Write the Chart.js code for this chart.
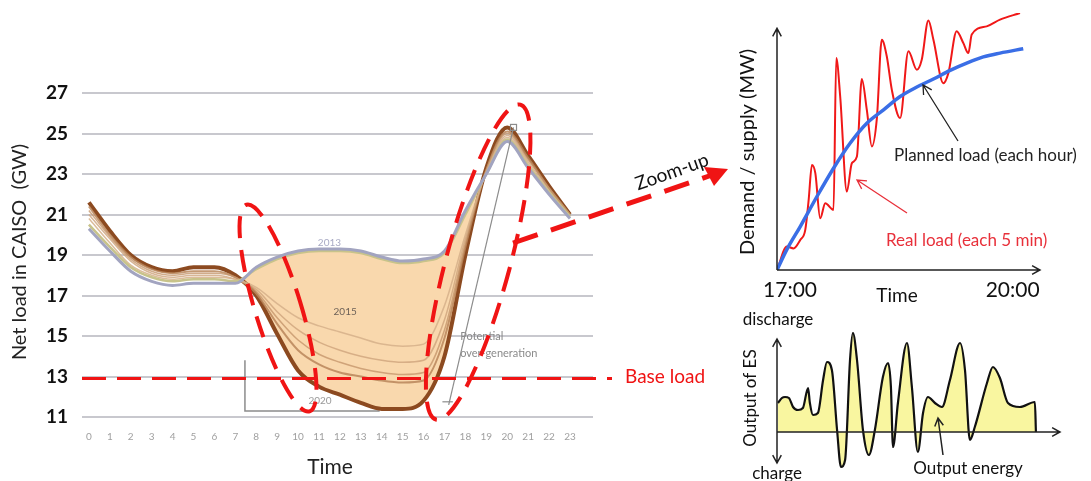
<!DOCTYPE html>
<html>
<head>
<meta charset="utf-8">
<script src="https://cdn.jsdelivr.net/npm/chart.js@4.4.1/dist/chart.umd.min.js"></script>
<style>
  html, body { margin: 0; padding: 0; background: #fff; }
  #wrap { position: relative; width: 1091px; height: 481px; overflow: hidden; }
  canvas { position: absolute; left: 0; top: 0; }
</style>
</head>
<body>
<div id="wrap">
  <canvas id="duckChart" width="1091" height="481"></canvas>
  <canvas id="loadChart" width="1091" height="481"></canvas>
  <canvas id="esChart" width="1091" height="481"></canvas>
</div>
<script>
// ---------- duck curve (net load in CAISO, GW)
const hours = [0, 1, 2, 3, 4, 5, 6, 7, 8, 9, 10, 11, 12, 13, 14, 15, 16, 17, 18, 19, 20, 21, 22, 23];
const hourLabels = hours.map(h => String(h));
const gwTicks = [11, 13, 15, 17, 19, 21, 23, 25, 27];
const load2013 = [20.3, 19.2, 18.2, 17.7, 17.5, 17.6, 17.6, 17.6, 18.4, 18.9, 19.2, 19.3, 19.3, 19.2, 18.9, 18.7, 18.8, 19.2, 21.2, 23.0, 24.6, 23.3, 22.0, 20.8];
const load2014 = [20.5, 19.4, 18.4, 17.9, 17.7, 17.8, 17.8, 17.7, 18.3, 18.8, 19.1, 19.2, 19.2, 19.1, 18.8, 18.6, 18.7, 19.1, 21.0, 23.0, 24.7, 23.4, 22.1, 20.9];
const load2015 = [20.8, 19.6, 18.5, 18.0, 17.8, 17.9, 17.9, 17.8, 17.4, 16.6, 15.9, 15.5, 15.2, 14.9, 14.6, 14.5, 14.6, 16.5, 20.0, 23.1, 24.8, 23.5, 22.1, 20.9];
const load2016 = [21.0, 19.8, 18.7, 18.1, 17.9, 18.0, 18.0, 17.8, 17.3, 16.2, 15.3, 14.7, 14.3, 14.0, 13.8, 13.7, 13.8, 15.8, 19.8, 23.1, 24.9, 23.6, 22.2, 20.9];
const load2017 = [21.2, 19.9, 18.8, 18.2, 18.0, 18.1, 18.1, 17.9, 17.2, 15.9, 14.8, 14.1, 13.7, 13.4, 13.2, 13.1, 13.2, 15.3, 19.6, 23.2, 25.0, 23.7, 22.3, 21.0];
const load2018 = [21.4, 20.0, 18.9, 18.3, 18.1, 18.2, 18.2, 17.9, 17.1, 15.6, 14.3, 13.6, 13.2, 13.0, 12.8, 12.7, 12.8, 14.9, 19.4, 23.2, 25.1, 23.8, 22.3, 21.0];
const load2020 = [21.6, 20.2, 19.0, 18.4, 18.2, 18.4, 18.4, 18.0, 17.0, 15.1, 13.3, 12.5, 12.1, 11.7, 11.4, 11.4, 11.8, 14.0, 19.0, 23.3, 25.3, 23.9, 22.4, 21.0];
const baseLoad = 12.9;

// ---------- zoom-up: demand / supply 17:00 - 20:00 (minutes after 17:00)
const realMin = [0, 7.3, 12.2, 17.1, 20.8, 23.3, 25.7, 28.2, 31.8, 35.5, 41.6, 43.6, 46.5, 51.4, 55.1, 58.8, 62.4, 66.1, 69.8, 73.5, 77.1, 80.8, 84.5, 90.6, 96.7, 102.9, 106.5, 111.4, 115.1, 122.4, 126.1, 132.2, 137.1, 140.8, 143.3, 154.3, 164.1, 178.8];
const realMW = [0, 9.1, 8.4, 11.7, 15.6, 27.3, 40.9, 37.7, 20.1, 26.0, 23.4, 82.5, 67.5, 30.5, 41.6, 44.2, 74.3, 62.3, 48.1, 59.1, 89.6, 83.1, 70.1, 59.1, 85.1, 77.9, 81.8, 97.1, 89.6, 72.7, 76.6, 92.9, 88.3, 84.4, 91.6, 94.8, 97.4, 100];
const plannedMin = [0, 7.3, 17.1, 29.4, 41.6, 53.9, 66.1, 78.4, 90.6, 102.9, 115.1, 127.4, 139.6, 151.8, 164.1, 181.2];
const plannedMW = [0, 8.0, 16.9, 28.6, 39.6, 49.4, 57.1, 62.3, 67.5, 71.2, 74.3, 77.7, 80.5, 82.9, 84.4, 86.1];
const timeLabels = ['17:00', '20:00'];

// ---------- output of energy storage
const esT = [0.4, 1.9, 3.1, 4.6, 6.2, 8.1, 10.0, 12.0, 12.7, 13.9, 15.8, 17.8, 19.3, 21.2, 23.2, 24.7, 26.3, 28.2, 29.3, 30.9, 33.2, 35.5, 37.8, 40.9, 42.9, 44.0, 44.8, 46.7, 50.2, 52.1, 54.4, 56.4, 58.3, 61.0, 63.7, 66.8, 70.7, 72.6, 74.5, 76.4, 81.1, 83.4, 86.1, 89.2, 93.8, 99.6, 100];
const esOut = [2.9, 3.4, 3.5, 3.4, 2.5, 2.2, 2.4, 4.4, 2.9, 1.7, 1.9, 5.2, 7.0, 6.2, 0.2, -3.5, -2.8, 7.2, 9.9, 7.2, 0.2, -2.3, 0.2, 5.5, 6.9, 4.5, -1.5, 2.9, 8.9, 4.5, -2.0, 1.9, 3.5, 2.9, 2.5, 5.2, 8.9, 6.2, -0.8, 0.5, 4.9, 6.5, 5.4, 2.9, 2.5, 3.0, 0];

Chart.defaults.font.family = 'Lato, "Open Sans", sans-serif';

const RED = '#f01414';

function label(ctx, str, x, y, font, color, align, angle) {
  ctx.save();
  ctx.translate(x, y);
  if (angle) ctx.rotate(angle);
  ctx.font = font;
  ctx.fillStyle = color;
  ctx.textAlign = align || 'center';
  ctx.textBaseline = 'middle';
  ctx.fillText(str, 0, 0);
  ctx.restore();
}

function arrowHead(ctx, x1, y1, x2, y2, head) {
  const a = Math.atan2(y2 - y1, x2 - x1);
  ctx.moveTo(x2 - head * Math.cos(a - 0.5), y2 - head * Math.sin(a - 0.5));
  ctx.lineTo(x2, y2);
  ctx.lineTo(x2 - head * Math.cos(a + 0.5), y2 - head * Math.sin(a + 0.5));
}

function arrow(ctx, x1, y1, x2, y2, color, width, head, both) {
  ctx.save();
  ctx.strokeStyle = color;
  ctx.lineWidth = width;
  ctx.beginPath();
  ctx.moveTo(x1, y1);
  ctx.lineTo(x2, y2);
  arrowHead(ctx, x1, y1, x2, y2, head);
  if (both) arrowHead(ctx, x2, y2, x1, y1, head);
  ctx.stroke();
  ctx.restore();
}

function line(ctx, pts, color, width, dash) {
  ctx.save();
  ctx.strokeStyle = color;
  ctx.lineWidth = width;
  ctx.setLineDash(dash || []);
  ctx.beginPath();
  pts.forEach((p, i) => i ? ctx.lineTo(p[0], p[1]) : ctx.moveTo(p[0], p[1]));
  ctx.stroke();
  ctx.restore();
}

function dashedEllipse(ctx, cx, cy, rx, ry, rot) {
  ctx.save();
  ctx.strokeStyle = RED;
  ctx.lineWidth = 4;
  ctx.setLineDash([22, 12]);
  ctx.beginPath();
  ctx.ellipse(cx, cy, rx, ry, rot, 0, Math.PI * 2);
  ctx.stroke();
  ctx.restore();
}

function curve(label, data, color, width, order, extra) {
  return Object.assign({
    label,
    data: data.map((v, i) => ({ x: hours[i], y: v })),
    borderColor: color,
    borderWidth: width,
    pointRadius: 0,
    fill: false,
    cubicInterpolationMode: 'monotone',
    order
  }, extra || {});
}

// left chart decorations
const duckDecor = {
  id: 'duckDecor',
  beforeDatasetsDraw(chart) {
    const { ctx, scales: { x, y } } = chart;
    // bracket behind the fill
    line(ctx, [[x.getPixelForValue(7.46), y.getPixelForValue(13.8)], [x.getPixelForValue(7.46), y.getPixelForValue(11.3)], [x.getPixelForValue(13.9), y.getPixelForValue(11.3)]], '#8c8c8c', 1.5);
  },
  afterDraw(chart) {
    const { ctx, scales: { x, y }, chartArea } = chart;
    gwTicks.forEach(v => label(ctx, String(v), 68, y.getPixelForValue(v), 'bold 19px Lato', '#111', 'right'));
    hours.forEach(h => label(ctx, hourLabels[h], x.getPixelForValue(h), 437, '10px Lato', '#a0a0a0', 'center'));
    label(ctx, 'Net load in CAISO  (GW)', 20, 252, '20px Lato', '#222', 'center', -Math.PI / 2);
    label(ctx, 'Time', 330, 467, '21px Lato', '#222', 'center');

    // year tags and notes
    label(ctx, '2013', x.getPixelForValue(11.5), y.getPixelForValue(19.6), '10px Lato', '#a8aac4', 'center');
    label(ctx, '2015', x.getPixelForValue(12.25), y.getPixelForValue(16.2), '10px Lato', '#6e6258', 'center');
    label(ctx, '2020', x.getPixelForValue(11.05), y.getPixelForValue(11.8), '10px Lato', '#9a9a9a', 'center');
    label(ctx, 'Potential', x.getPixelForValue(17.75), y.getPixelForValue(15.0), '11px Lato', '#8a8a8a', 'left');
    label(ctx, 'over-generation', x.getPixelForValue(17.75), y.getPixelForValue(14.15), '11px Lato', '#8a8a8a', 'left');
    line(ctx, [[x.getPixelForValue(17.2), y.getPixelForValue(11.6)], [x.getPixelForValue(20.3), y.getPixelForValue(25.3)]], '#8c8c8c', 1.2);
    line(ctx, [[x.getPixelForValue(16.9), y.getPixelForValue(11.75)], [x.getPixelForValue(17.4), y.getPixelForValue(11.75)]], '#8c8c8c', 1.2);
    ctx.strokeStyle = '#8c8c8c';
    ctx.lineWidth = 1.2;
    ctx.strokeRect(x.getPixelForValue(20.3) - 3, y.getPixelForValue(25.3) - 3, 6, 6);

    // base load
    const yb = y.getPixelForValue(baseLoad);
    line(ctx, [[chartArea.left, yb], [612, yb]], RED, 3, [24, 11]);
    label(ctx, 'Base load', 625, yb - 2, '19px Lato', RED, 'left');

    // highlighted ramps
    dashedEllipse(ctx, x.getPixelForValue(9.04), y.getPixelForValue(16.38), 23, 108, -17 * Math.PI / 180);
    dashedEllipse(ctx, x.getPixelForValue(18.61), y.getPixelForValue(18.65), 32, 163, 15 * Math.PI / 180);

    // zoom-up arrow
    line(ctx, [[513, 243], [712, 175]], RED, 5, [26, 14]);
    ctx.save();
    ctx.fillStyle = RED;
    ctx.beginPath();
    ctx.moveTo(728, 169);
    ctx.lineTo(704, 167);
    ctx.lineTo(714, 186);
    ctx.closePath();
    ctx.fill();
    ctx.restore();
    label(ctx, 'Zoom-up', 672, 172, '19px Lato', '#111', 'center', -19.6 * Math.PI / 180);
  }
};

new Chart(document.getElementById('duckChart'), {
  type: 'line',
  data: {
    datasets: [
      curve('2013', load2013, '#a2a4c0', 3, 0),
      curve('2014', load2014, '#c8c38a', 2.5, 1),
      curve('2015', load2015, 'rgba(214,176,138,0.85)', 1.5, 2),
      curve('2016', load2016, 'rgba(206,164,124,0.8)', 1.5, 3),
      curve('2017', load2017, 'rgba(198,150,108,0.8)', 1.5, 4),
      curve('2018', load2018, 'rgba(186,134,90,0.85)', 2, 5),
      curve('2020', load2020, '#8c4a20', 4, 9, {
        fill: { target: 0, above: 'rgba(0,0,0,0)', below: '#f9d8ad' }
      })
    ]
  },
  options: {
    responsive: false,
    animation: false,
    events: [],
    layout: { padding: { left: 82, right: 498, top: 93, bottom: 64 } },
    plugins: { legend: { display: false }, tooltip: { enabled: false } },
    scales: {
      x: { type: 'linear', min: -0.33, max: 24.1, display: false },
      y: {
        min: 11, max: 27,
        ticks: { display: false, stepSize: 2 },
        border: { display: false },
        grid: { color: '#c8c8ce', lineWidth: 2, drawTicks: false }
      }
    }
  },
  plugins: [duckDecor]
});

// right top: real vs planned load
const loadDecor = {
  id: 'loadDecor',
  afterDraw(chart) {
    const { ctx, scales: { x, y } } = chart;
    const x0 = x.getPixelForValue(0), y0 = y.getPixelForValue(0);
    arrow(ctx, x0, y0, x0, y.getPixelForValue(94), '#222', 1.5, 9);
    arrow(ctx, x0, y0, x.getPixelForValue(193.5), y0, '#222', 1.5, 9);
    label(ctx, timeLabels[0], x0 + 13, 290, '21px Lato', '#111', 'center');
    label(ctx, timeLabels[1], x.getPixelForValue(180) - 9, 290, '21px Lato', '#111', 'center');
    label(ctx, 'Time', 897, 296, '19px Lato', '#111', 'center');
    label(ctx, 'Demand / supply (MW)', 748, 152, '20px Lato', '#111', 'center', -Math.PI / 2);
    label(ctx, 'Planned load (each hour)', 894, 156, '17px Lato', '#222', 'left');
    arrow(ctx, 958, 141, 923, 85, '#222', 1.3, 10);
    label(ctx, 'Real load (each 5 min)', 886, 241, '17px Lato', '#e8303a', 'left');
    arrow(ctx, 907, 213, 857, 180, '#e8303a', 1.3, 10);
  }
};

new Chart(document.getElementById('loadChart'), {
  type: 'line',
  data: {
    datasets: [
      {
        label: 'Planned load (each hour)',
        data: plannedMin.map((m, i) => ({ x: m, y: plannedMW[i] })),
        borderColor: '#3a6ee6',
        borderWidth: 3.5,
        pointRadius: 0,
        cubicInterpolationMode: 'monotone',
        order: 0
      },
      {
        label: 'Real load (each 5 min)',
        data: realMin.map((m, i) => ({ x: m, y: realMW[i] })),
        borderColor: '#f01818',
        borderWidth: 2,
        pointRadius: 0,
        cubicInterpolationMode: 'monotone',
        order: 1
      }
    ]
  },
  options: {
    responsive: false,
    animation: false,
    events: [],
    layout: { padding: { left: 777, right: 49, top: 13, bottom: 211 } },
    plugins: { legend: { display: false }, tooltip: { enabled: false } },
    scales: {
      x: { type: 'linear', min: 0, max: 195, display: false },
      y: { min: 0, max: 100, display: false }
    }
  },
  plugins: [loadDecor]
});

// right bottom: output of ES
const esDecor = {
  id: 'esDecor',
  afterDraw(chart) {
    const { ctx, scales: { x, y } } = chart;
    const x0 = x.getPixelForValue(0), y0 = y.getPixelForValue(0);
    arrow(ctx, x0, y.getPixelForValue(-3.1), x0, y.getPixelForValue(9.3), '#222', 1.5, 9, true);
    arrow(ctx, x0, y0, x.getPixelForValue(109.3), y0, '#222', 1.5, 9);
    label(ctx, 'discharge', 778, 320, '17px Lato', '#111', 'center');
    label(ctx, 'charge', 777, 474, '17px Lato', '#111', 'center');
    label(ctx, 'Output of ES', 751, 398, '17px Lato', '#111', 'center', -Math.PI / 2);
    label(ctx, 'Output energy', 968, 469, '17px Lato', '#111', 'center');
    arrow(ctx, 943, 455, 938, 418, '#222', 1.5, 9);
  }
};

new Chart(document.getElementById('esChart'), {
  type: 'line',
  data: {
    datasets: [{
      label: 'Output of ES',
      data: esT.map((t, i) => ({ x: t, y: esOut[i] })),
      borderColor: '#111',
      borderWidth: 2.2,
      backgroundColor: '#f9f6a0',
      fill: 'origin',
      pointRadius: 0,
      cubicInterpolationMode: 'monotone'
    }]
  },
  options: {
    responsive: false,
    animation: false,
    events: [],
    layout: { padding: { left: 777, right: 31, top: 332, bottom: 9 } },
    plugins: { legend: { display: false }, tooltip: { enabled: false } },
    scales: {
      x: { type: 'linear', min: 0, max: 109.3, display: false },
      y: { min: -4, max: 10, display: false }
    }
  },
  plugins: [esDecor]
});
</script>
</body>
</html>
